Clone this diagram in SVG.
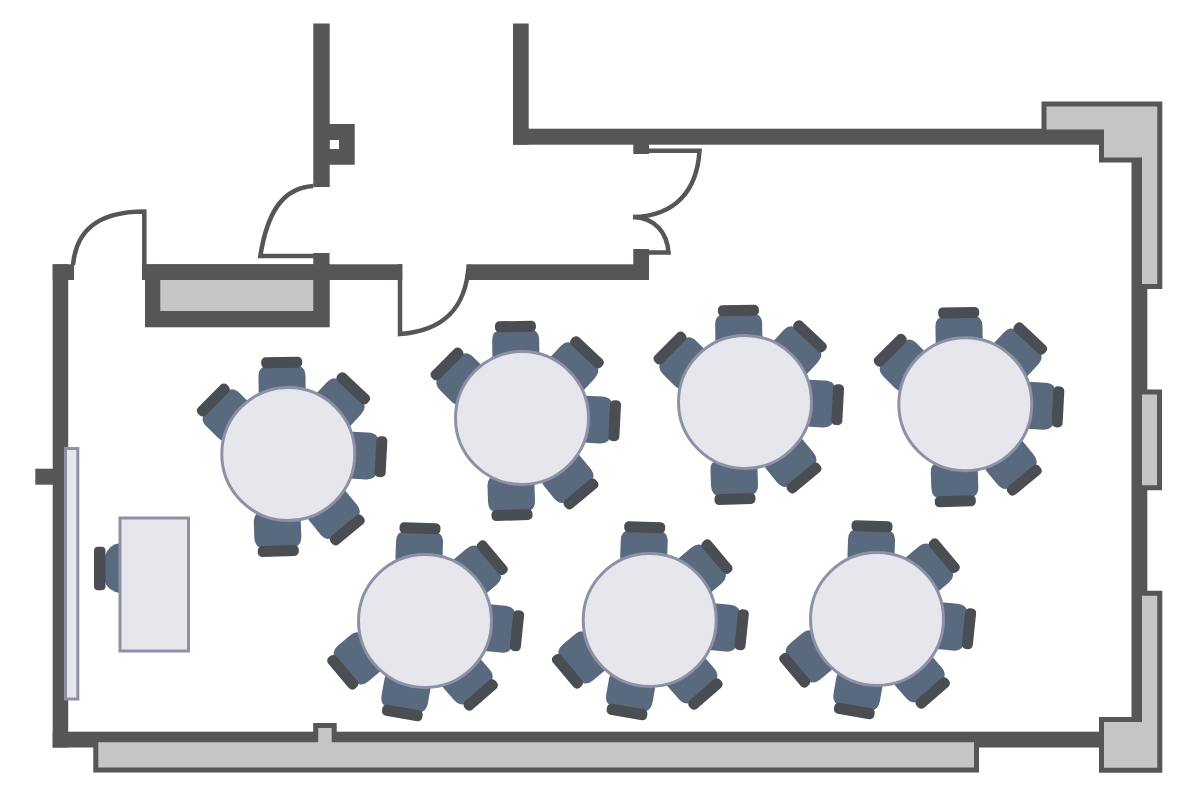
<svg xmlns="http://www.w3.org/2000/svg" xmlns:xlink="http://www.w3.org/1999/xlink" width="1200" height="795" viewBox="0 0 1200 795">
<style>
.w{fill:#575556}
.g{fill:#c6c4c5;stroke:#575556;stroke-width:5}
.d{fill:none;stroke:#575556;stroke-width:4.5}
.t{fill:#e6e7ec;stroke:#8e90a6;stroke-width:3}
.seat{fill:#5a6a7e}
.back{fill:#4a4d52}
</style>
<defs>
<g id="chair">
<path class="seat" d="M-23.5,30 V14 Q-23.5,3 -13,3 H13 Q23.5,3 23.5,14 V30 Q23.5,39 15,39 H-15 Q-23.5,39 -23.5,30 Z"/>
<rect class="back" x="-20.5" y="-5.5" width="41" height="11" rx="4.5"/>
</g>
<g id="upper">
<use href="#chair" transform="translate(-6.6,-91.5) rotate(-1)"/>
<use href="#chair" transform="translate(65,-65.7) rotate(43)"/>
<use href="#chair" transform="translate(92.7,2.7) rotate(93)"/>
<use href="#chair" transform="translate(59,76) rotate(140.5)"/>
<use href="#chair" transform="translate(-10,97) rotate(178)"/>
<use href="#chair" transform="translate(-75,-54) rotate(-45)"/>
<circle class="t" r="66.5"/>
</g>
<g id="lower">
<use href="#chair" transform="translate(-5,-92.7) rotate(2)"/>
<use href="#chair" transform="translate(67.3,-63.3) rotate(50)"/>
<use href="#chair" transform="translate(92,9.7) rotate(96)"/>
<use href="#chair" transform="translate(55.7,74) rotate(139)"/>
<use href="#chair" transform="translate(-22.7,92) rotate(190)"/>
<use href="#chair" transform="translate(-82.3,51.3) rotate(230)"/>
<circle class="t" r="66.5"/>
</g>
</defs>
<rect width="1200" height="795" fill="#fff"/>
<g id="walls">
<rect class="w" x="313.3" y="23.5" width="16.4" height="163.5"/>
<path class="w" fill-rule="evenodd" d="M329,124 H354.7 V164.7 H329 Z M329.3,140 V149 H339 V140 Z"/>
<rect class="w" x="513" y="23.5" width="15.7" height="121.2"/>
<rect class="w" x="513" y="128.7" width="590" height="16"/>
<rect class="w" x="633.3" y="144" width="15.7" height="10"/>
<rect class="w" x="1131.5" y="158" width="15.8" height="565"/>
<rect class="w" x="52.7" y="264.3" width="15.5" height="483.2"/>
<rect class="w" x="52.7" y="264.3" width="21.3" height="15.7"/>
<rect class="w" x="52.7" y="731.7" width="1060" height="15.8"/>
<rect class="w" x="142" y="264.3" width="260.3" height="15.7"/>
<rect class="w" x="145" y="264.3" width="184.5" height="63"/>
<rect class="w" x="313.3" y="253" width="16.2" height="74"/>
<rect class="w" x="468.7" y="264.3" width="180.3" height="15.7"/>
<rect class="w" x="633.3" y="249" width="15.7" height="31"/>
<rect class="w" x="35.3" y="468.7" width="18" height="16"/>
</g>
<g id="cavities">
<rect x="160.3" y="280" width="153" height="31" fill="#c6c4c5"/>
<path class="g" d="M1044,104 H1159.8 V286.5 H1139.5 V160 H1101.5 V132 H1044 Z"/>
<path class="g" d="M1139.5,392 H1159.5 V487.7 H1139.5 Z"/>
<path class="g" d="M1139.5,593.3 H1159.8 V770.2 H1101.5 V719.5 H1139.5 Z"/>
<path class="g" d="M95.8,739.8 H315.7 V725.4 H334.2 V739.8 H976.5 V770 H95.8 Z"/>
</g>
<g id="doors">
<path class="d" d="M73,265 C76,232 96,211.5 144.3,211.5 V265"/>
<path class="d" d="M313.3,186 C285,188 268,208 260.3,256 H314"/>
<path class="d" d="M400,264.3 V334 C440,331 466,312 468.7,264.3"/>
<path class="d" d="M649,150.8 H699.5 C697,190 676,216 633,217"/>
<path class="d" d="M633,217 C655,218 667,232 668.5,252.5 H649"/>
</g>
<g id="whiteboard"><rect class="t" x="65.5" y="448.5" width="12.3" height="250.5" stroke-width="2.5"/></g>
<g id="desk">
<path class="seat" d="M120,543 Q108,545 105,556 V582 Q108,591 120,593 Z"/>
<rect class="back" x="94" y="546.7" width="11.5" height="43.5" rx="4"/>
<rect class="t" x="120" y="518" width="68.5" height="133"/>
</g>
<use id="table1" href="#upper" x="288.3" y="454"/>
<use id="table2" href="#upper" x="522" y="418"/>
<use id="table3" href="#upper" x="745" y="402"/>
<use id="table4" href="#upper" x="965.3" y="404.2"/>
<use id="table5" href="#lower" x="425" y="621"/>
<use id="table6" href="#lower" x="649.7" y="620"/>
<use id="table7" href="#lower" x="877" y="619"/>
</svg>
